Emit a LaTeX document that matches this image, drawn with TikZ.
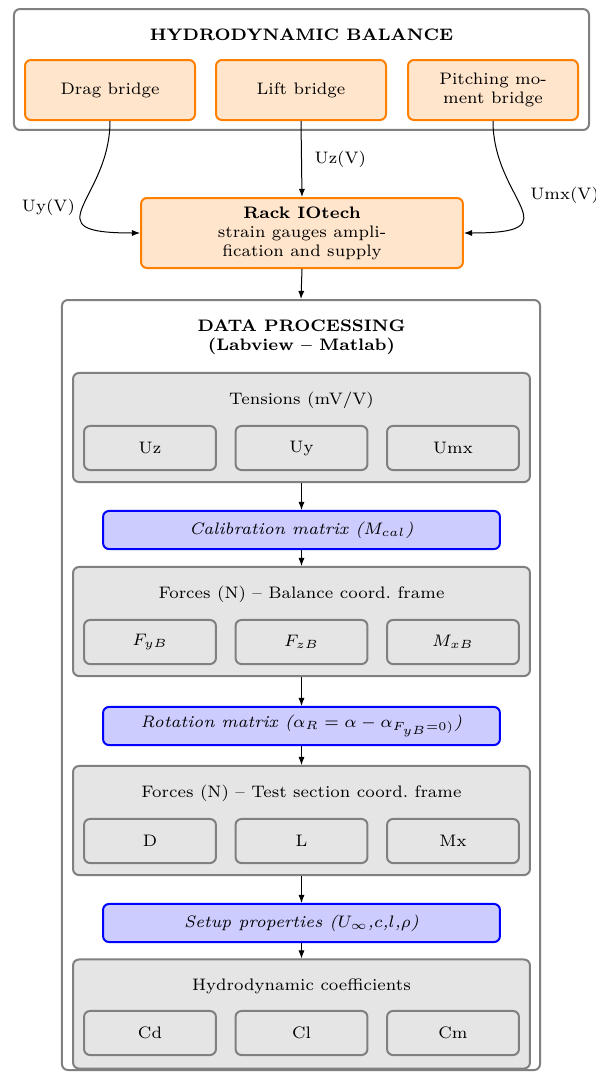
\documentclass[tikz,border=0pt]{standalone}
\usepackage{amsmath}
\usepackage{amssymb}
\usepackage{xcolor}
\usepackage{tikz}
\usetikzlibrary{positioning,arrows.meta}

\begin{document}
\begin{tikzpicture}[
					x=4.2pt, y=-4.2pt, font=\scriptsize,
					panel/.style={
						draw=black!50, fill=white, line width=0.84pt,
						rounded corners=2.5pt, anchor=center
					},
					bridge/.style={
						draw=orange, fill=orange!20, line width=0.84pt,
						minimum width=71.4pt, minimum height=25.2pt,
						rounded corners=2.5pt, align=center, anchor=center
					},
					stage/.style={
						draw=black!50, fill=black!10, line width=0.84pt,
						minimum width=191.9pt, minimum height=45.8pt,
						rounded corners=2.5pt, anchor=center
					},
					cell/.style={
						draw=black!50, fill=black!10, line width=0.84pt,
						minimum width=55.4pt, minimum height=18.5pt,
						rounded corners=2.5pt, anchor=center
					},
					opbox/.style={
						draw=blue, fill=blue!20, line width=0.84pt,
						minimum width=166.7pt, minimum height=16pt,
						rounded corners=2.5pt, font=\scriptsize\itshape, anchor=center
					},
					flow/.style={-{Latex[length=3.4pt,width=2.6pt]}, line width=0.42pt}
					]
					\useasboundingbox (0,0) rectangle (59.6,107.2);
					% Balance with its three bridges
					\node[panel, minimum width=241.5pt, minimum height=50.8pt] (balance) at (30.15,6.95) {};
					\node[font=\scriptsize\bfseries] (balancetitle) at (30.15,3.5) {HYDRODYNAMIC BALANCE};
					\node[bridge] (drag)  at (11.0,9.0)  {Drag bridge};
					\node[bridge] (lift)  at (30.1,9.0)  {Lift bridge};
					\node[bridge] (pitch) at (49.3,9.0)  {Pitching mo-\\ment bridge};
					\node[bridge, minimum width=135.2pt, minimum height=29.4pt] (rack) at (30.2,23.3)
						{\textbf{Rack IOtech}\\strain gauges ampli-\\fication and supply};
					\draw[flow] (drag.south) .. controls +(0,8) and +(-11.1,0) .. (rack.west)
						node[pos=0.5, left=0pt] {Uy(V)};
					\draw[flow] (lift.south) -- (rack.north) node[midway, right=2pt] {Uz(V)};
					\draw[flow] (pitch.south) .. controls +(0,8) and +(11.1,0) .. (rack.east)
						node[pos=0.4, right=3pt] {Umx(V)};
					% Data processing chain
					\node[panel, minimum width=200.8pt, minimum height=323.4pt] (data) at (30.1,68.5) {};
					\node[font=\scriptsize\bfseries, align=center] (datatitle) at (30.15,33.7)
						{DATA PROCESSING\\(Labview -- Matlab)};
					\draw[flow] (rack.south) -- (data.north);
					
					\node[stage] (tensions) at (30.15,42.75) {};
					\node (tensionstitle) at (30.15,40.0) {Tensions (mV/V)};
					\node[cell] (uz)  at (15.0,44.8)  {Uz};
					\node[cell] (uy)  at (30.15,44.8) {Uy};
					\node[cell] (umx) at (45.3,44.8)  {Umx};
					
					\node[opbox] (calib) at (30.15,53.0) {Calibration matrix ($M_{cal}$)};
					
					\node[stage] (balforces) at (30.15,62.15) {};
					\node (balforcestitle) at (30.15,59.4) {Forces (N) -- Balance coord.\ frame};
					\node[cell] (fyb) at (15.0,64.2)  {$F_{yB}$};
					\node[cell] (fzb) at (30.15,64.2) {$F_{zB}$};
					\node[cell] (mxb) at (45.3,64.2)  {$M_{xB}$};
					
					\node[opbox] (rotation) at (30.15,72.6) {Rotation matrix ($\alpha_R = \alpha - \alpha_{F_{yB}=0)}$)};
					
					\node[stage] (testforces) at (30.15,82.05) {};
					\node (testforcestitle) at (30.15,79.3) {Forces (N) -- Test section coord.\ frame};
					\node[cell] (drag2) at (15.0,84.1)  {D};
					\node[cell] (lift2) at (30.15,84.1) {L};
					\node[cell] (mx)    at (45.3,84.1)  {Mx};
					
					\node[opbox] (setup) at (30.15,92.3) {Setup properties ($U_\infty$,$c$,$l$,$\rho$)};
					
					\node[stage] (coeffs) at (30.15,101.4) {};
					\node (coeffstitle) at (30.15,98.6) {Hydrodynamic coefficients};
					\node[cell] (cd) at (15.0,103.3)  {Cd};
					\node[cell] (cl) at (30.15,103.3) {Cl};
					\node[cell] (cm) at (45.3,103.3)  {Cm};
					
					\draw[flow] (tensions.south) -- (calib.north);
					\draw[flow] (calib.south) -- (balforces.north);
					\draw[flow] (balforces.south) -- (rotation.north);
					\draw[flow] (rotation.south) -- (testforces.north);
					\draw[flow] (testforces.south) -- (setup.north);
					\draw[flow] (setup.south) -- (coeffs.north);
				\end{tikzpicture}
\end{document}
